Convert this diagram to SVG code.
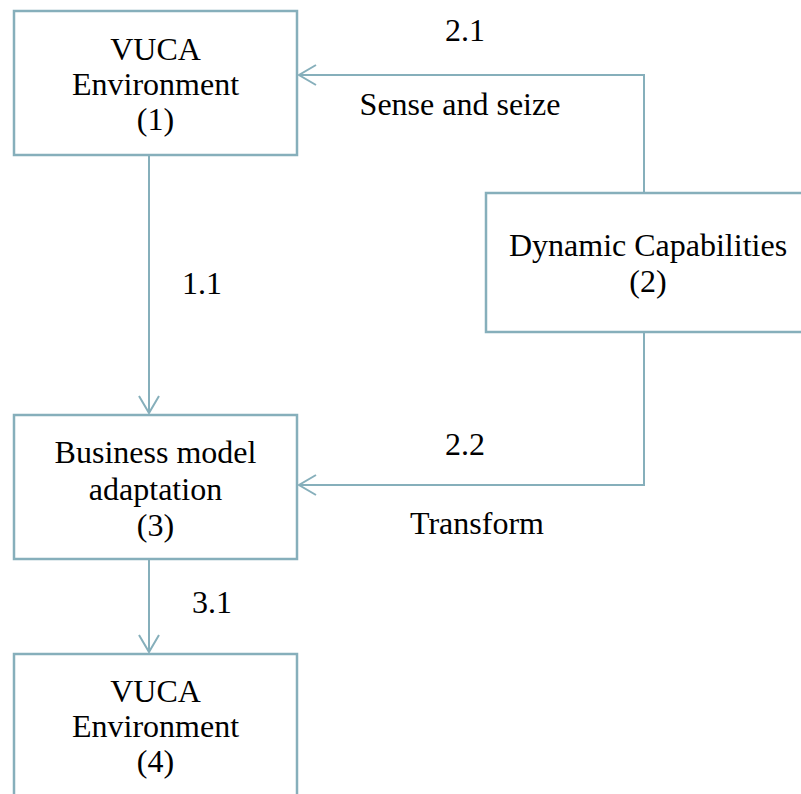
<svg xmlns="http://www.w3.org/2000/svg" width="801" height="794" viewBox="0 0 801 794">
<defs>
<style>
.box{fill:#fff;stroke:#86AFBB;stroke-width:2.5}
.con{fill:none;stroke:#86AFBB;stroke-width:2}
.t{font-family:"Liberation Serif","Times New Roman",serif;font-size:32px;fill:#000;text-anchor:middle}
</style>
<marker id="arr" markerUnits="userSpaceOnUse" markerWidth="24" markerHeight="24" viewBox="-20 -12 24 24" refX="0" refY="0" orient="auto">
<path d="M-17,-10 L0,0 L-17,10" fill="none" stroke="#86AFBB" stroke-width="2"/>
</marker>
</defs>
<rect width="801" height="794" fill="#fff"/>
<g id="connectors">
<path class="con" d="M149,156 V413" marker-end="url(#arr)"/>
<path class="con" d="M644,192 V75 H299" marker-end="url(#arr)"/>
<path class="con" d="M644,333 V485 H299" marker-end="url(#arr)"/>
<path class="con" d="M149,559 V652" marker-end="url(#arr)"/>
<text class="t" x="465" y="41">2.1</text>
<text class="t" x="460" y="115">Sense and seize</text>
<text class="t" x="202" y="294">1.1</text>
<text class="t" x="465" y="455">2.2</text>
<text class="t" x="477" y="534">Transform</text>
<text class="t" x="212" y="613">3.1</text>
</g>
<g id="n1">
<rect class="box" x="14" y="11" width="283" height="144"/>
<text class="t" x="155.5" y="60">VUCA</text>
<text class="t" x="155.5" y="95">Environment</text>
<text class="t" x="155.5" y="130">(1)</text>
</g>
<g id="n2">
<rect class="box" x="486" y="193" width="322" height="139"/>
<text class="t" x="648" y="256">Dynamic Capabilities</text>
<text class="t" x="648" y="292">(2)</text>
</g>
<g id="n3">
<rect class="box" x="14" y="415" width="283" height="144"/>
<text class="t" x="155.5" y="463">Business model</text>
<text class="t" x="155.5" y="500">adaptation</text>
<text class="t" x="155.5" y="536">(3)</text>
</g>
<g id="n4">
<rect class="box" x="14" y="654" width="283" height="150"/>
<text class="t" x="155.5" y="702">VUCA</text>
<text class="t" x="155.5" y="737">Environment</text>
<text class="t" x="155.5" y="772">(4)</text>
</g>
</svg>
